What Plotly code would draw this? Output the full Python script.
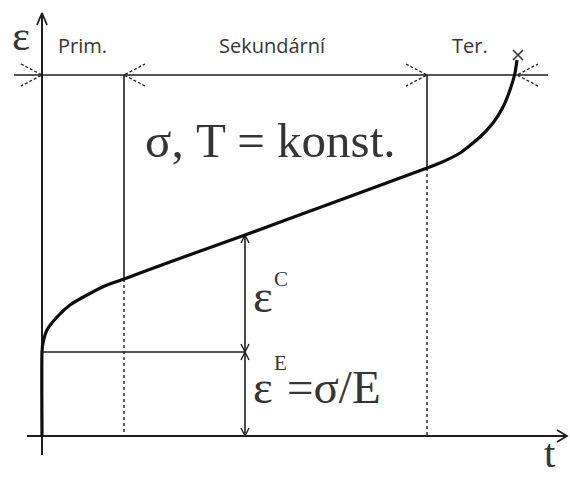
import plotly.graph_objects as go

# Creep curve eps(t) at constant stress and temperature (diagram units)
t_curve = [0, 0, 1, 5, 15, 28, 45, 65, 82, 98, 150, 203, 260, 320, 385,
           398, 418, 438, 451, 461, 468, 473, 475]
eps_curve = [0, 84, 93, 106, 119, 131, 141, 151, 157, 163, 182, 201, 222, 244, 268,
             273, 283, 299, 313, 329, 346, 363, 376]

# Stage boundaries and reference levels
t_primary_end = 82
t_secondary_end = 385
t_rupture = 475
eps_rupture = 381
eps_elastic = 84
eps_at_measure = 201
t_measure = 203
band_level = 361

stage_labels = ["Prim.", "Sekundární", "Ter."]
stage_label_t = [40, 230, 428]

INK = "#1e1e1e"
TEXT = "#353535"
SERIF = "Liberation Serif, Times New Roman, serif"
SANS = "Open Sans, DejaVu Sans, sans-serif"

fig = go.Figure()


def seg(xs, ys, width=1.6, color=INK, dash=None):
    fig.add_trace(go.Scatter(x=xs, y=ys, mode="lines", hoverinfo="skip",
                             line=dict(color=color, width=width, dash=dash),
                             showlegend=False))


def head(x, y, dx, dy, length, half, width=1.6, dash=None):
    # open arrowhead with tip at (x, y) pointing along (dx, dy)
    px, py = -dy, dx
    xs = [x - dx * length + px * half, x, x - dx * length - px * half]
    ys = [y - dy * length + py * half, y, y - dy * length - py * half]
    seg(xs, ys, width=width, dash=dash)


# axes
seg([0, 0], [-19, 423], width=2)
head(0, 423, 0, 1, 12, 5, width=1.8)
seg([-15, 525], [0, 0], width=2)
head(525, 0, 1, 0, 10, 6, width=1.8)

# stage band across the top
seg([-28, 506], [band_level, band_level], width=1.6)
for tx, d in [(0, 1), (t_primary_end, -1), (t_secondary_end, 1), (t_rupture, -1)]:
    head(tx, band_level, d, 0, 21, 11, width=1.3, dash="3px,2px")

# stage boundaries: solid above the curve, dotted below it
eps_b1 = 157
eps_b2 = 268
seg([t_primary_end, t_primary_end], [band_level, eps_b1], width=1.6)
seg([t_primary_end, t_primary_end], [eps_b1, 0], width=1.4, dash="3px,3px")
seg([t_secondary_end, t_secondary_end], [band_level, eps_b2], width=1.6)
seg([t_secondary_end, t_secondary_end], [eps_b2, 0], width=1.4, dash="3px,3px")

# elastic strain level
seg([0, t_measure], [eps_elastic, eps_elastic], width=1.6)

# dimension arrows for creep and elastic strain
seg([t_measure, t_measure], [0, eps_at_measure], width=1.6)
head(t_measure, eps_at_measure, 0, 1, 8, 4, width=1.4)
head(t_measure, eps_elastic, 0, -1, 8, 4, width=1.4)
head(t_measure, eps_elastic, 0, 1, 8, 4, width=1.4)
head(t_measure, 0, 0, -1, 8, 4, width=1.4)

# creep curve
fig.add_trace(go.Scatter(x=t_curve, y=eps_curve, mode="lines", hoverinfo="skip",
                         line=dict(color="#0d0d0d", width=3.2, shape="spline",
                                   smoothing=0.5),
                         showlegend=False))
# rupture mark
fig.add_trace(go.Scatter(x=[t_rupture + 1], y=[eps_rupture], mode="markers",
                         hoverinfo="skip", showlegend=False,
                         marker=dict(symbol="x-thin", size=10,
                                     line=dict(color=TEXT, width=1.6))))


def text(x, y, s, size, family=SERIF, color=TEXT, xanchor="center", yanchor="middle"):
    fig.add_annotation(x=x, y=y, text=s, showarrow=False, xanchor=xanchor,
                       yanchor=yanchor, borderpad=0,
                       font=dict(family=family, size=size, color=color))


text(-21, 401, "ε", 43)
for lab, lt in zip(stage_labels, stage_label_t):
    text(lt, 391, lab, 20, family=SANS)
text(228, 296, "σ, T = konst.", 49)
text(221, 140, "ε", 47)
text(239, 157, "C", 21)
text(221, 49, "ε", 47)
text(238, 73, "E", 21)
text(244, 49, "=σ/E", 47, xanchor="left")
text(508, -41, "t", 41, yanchor="bottom")

fig.update_layout(
    width=570, height=477,
    margin=dict(l=0, r=0, t=0, b=0),
    paper_bgcolor="white", plot_bgcolor="white",
    xaxis=dict(range=[-42, 528], visible=False, fixedrange=True),
    yaxis=dict(range=[-41, 436], visible=False, fixedrange=True),
)

fig.write_html("out.html")
